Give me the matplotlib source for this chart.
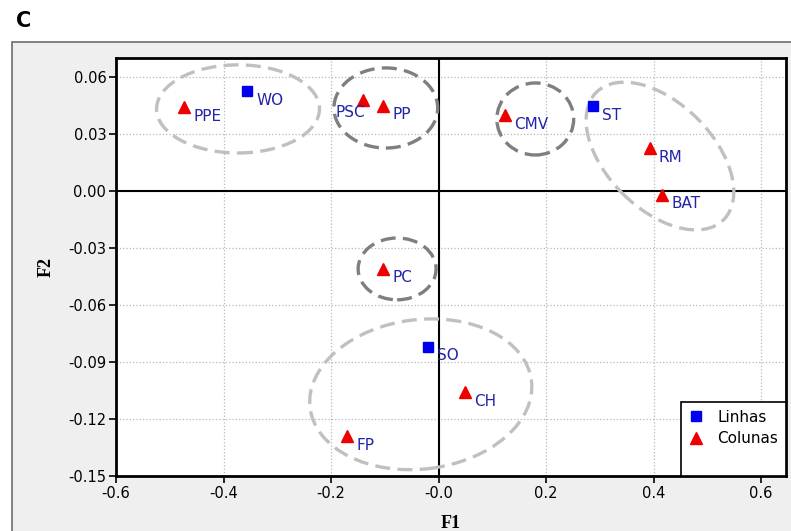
import numpy as np
import matplotlib
matplotlib.use("Agg")
import matplotlib.pyplot as plt
from matplotlib.patches import Ellipse, Rectangle
from matplotlib.transforms import Affine2D

# rows (Linhas) and columns (Colunas) of the correspondence analysis
row_names = ["WO", "ST", "SO"]
row_f1 = [-0.356, 0.287, -0.020]
row_f2 = [0.0526, 0.0447, -0.082]

col_names = ["PPE", "PSC", "PP", "CMV", "RM", "BAT", "PC", "CH", "FP"]
col_f1 = [-0.473, -0.140, -0.103, 0.124, 0.393, 0.416, -0.103, 0.049, -0.170]
col_f2 = [0.0442, 0.048, 0.045, 0.040, 0.0226, -0.002, -0.041, -0.106, -0.129]

xticks = [-0.6, -0.4, -0.2, 0.0, 0.2, 0.4, 0.6]
xtick_labels = ["-0.6", "-0.4", "-0.2", "-0.0", "0.2", "0.4", "0.6"]
yticks = [-0.15, -0.12, -0.09, -0.06, -0.03, 0.0, 0.03, 0.06]
ytick_labels = ["-0.15", "-0.12", "-0.09", "-0.06", "-0.03", "0.00", "0.03", "0.06"]

# groups: center (F1, F2), width/height in F1 units, angle, colour
groups = [
    ((-0.373, 0.0432), 0.303, 0.164, 0, "#c0c0c0"),
    ((-0.098, 0.0437), 0.193, 0.149, 0, "#7f7f7f"),
    ((0.180, 0.0379), 0.143, 0.134, 0, "#7f7f7f"),
    ((0.412, 0.0184), 0.335, 0.197, -45, "#c0c0c0"),
    ((-0.077, -0.041), 0.145, 0.115, 0, "#7f7f7f"),
    ((-0.033, -0.107), 0.415, 0.278, 7, "#c0c0c0"),
]

fig = plt.figure(figsize=(7.91, 5.31), dpi=100)

# grey panel behind the plot
panel = Rectangle((12/791, -0.1), 1.2, 0.1 + 1 - 42/531, transform=fig.transFigure,
                  facecolor="#efefef", edgecolor="#6e6e6e", lw=1.2, zorder=-5)
fig.patches.append(panel)
fig.text(16/791, 1 - 21/531, "C", fontsize=15, fontweight="bold", family="DejaVu Sans",
         va="center", ha="left")

ax = fig.add_axes([116/791, 1 - 476/531, 670/791, 418/531])
ax.set_zorder(2)
ax.set_facecolor("white")
ax.set_xlim(-0.6, 0.6 + 25/537.5)
ax.set_ylim(-0.15, 0.07)

ax.grid(True, color="#b8b8b8", linestyle=":", lw=0.9)
ax.set_axisbelow(True)
ax.axhline(0, color="black", lw=1.5, zorder=1)
ax.axvline(0, color="black", lw=1.5, zorder=1)

# ratio between F2 and F1 units on screen
r = (418/0.22) / (645/1.2)
for (cx, cy), w, h, ang, c in groups:
    e = Ellipse((0, 0), w, h, angle=ang, fill=False, edgecolor=c, lw=2.4,
                linestyle=(0, (4.5, 2.2)))
    e.set_transform(Affine2D().scale(1, 1/r).translate(cx, cy) + ax.transData)
    ax.add_patch(e)

ax.plot(row_f1, row_f2, "s", color="#0000ee", ms=7, ls="none", label="Linhas", zorder=4)
ax.plot(col_f1, col_f2, "^", color="#ee0000", ms=9, ls="none", label="Colunas", zorder=4)
ax.plot([], [], ls="none", label=" ")

lab_color = "#2323a8"
for n, x, y in zip(row_names + col_names, row_f1 + col_f1, row_f2 + col_f2):
    off = (-20, -9) if n == "PSC" else (6.5, -6.5)
    ax.annotate(n, (x, y), xytext=off, textcoords="offset points", ha="left",
                va="center", fontsize=11, color=lab_color, family="DejaVu Sans", zorder=5)

ax.set_xticks(xticks)
ax.set_xticklabels(xtick_labels)
ax.set_yticks(yticks)
ax.set_yticklabels(ytick_labels)
ax.tick_params(direction="out", length=5, width=1.2, labelsize=10.5, pad=2)
for s in ax.spines.values():
    s.set_linewidth(2)

ax.set_xlabel("F1", family="Liberation Serif", fontweight="bold", fontsize=13, labelpad=10)
ax.set_ylabel("F2", family="Liberation Serif", fontweight="bold", fontsize=13, labelpad=10)

leg = ax.legend(loc="lower right", borderaxespad=0, fancybox=False, edgecolor="black",
                framealpha=1, fontsize=11, handletextpad=0.9, borderpad=0.5,
                labelspacing=0.45, handlelength=1.0)
leg.get_frame().set_linewidth(1.2)

fig.savefig("out.png", dpi=100)
